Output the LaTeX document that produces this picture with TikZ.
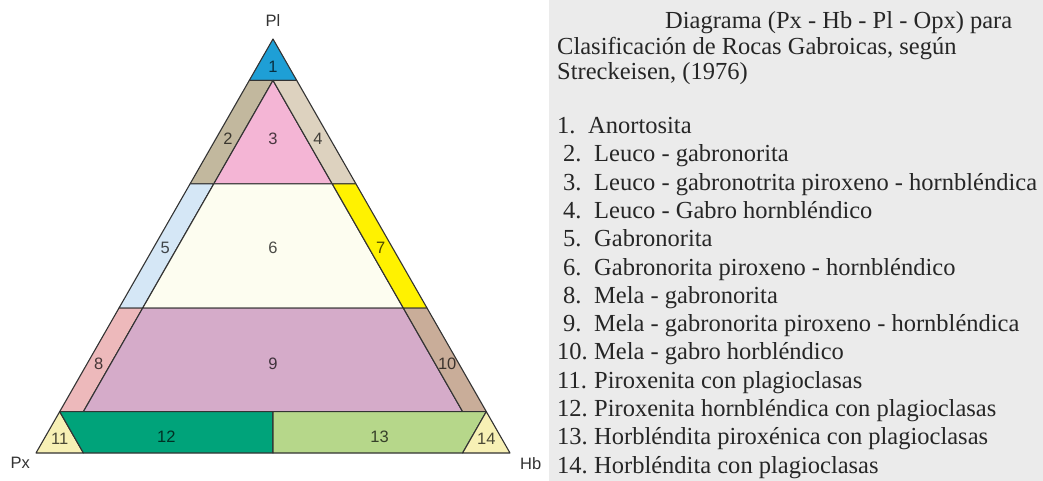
\documentclass[tikz,border=0pt]{standalone}
\usepackage{fontspec}
\setmainfont{Liberation Serif}
\newfontfamily\labelfont{Liberation Sans}
\usetikzlibrary{positioning,calc}
\definecolor{ink}{HTML}{333333}
\definecolor{panel}{HTML}{EBEBEB}
\definecolor{zone1}{HTML}{1E9FD6}
\definecolor{zone2}{HTML}{C2B89E}
\definecolor{zone3}{HTML}{F4B5D5}
\definecolor{zone4}{HTML}{DDD2BF}
\definecolor{zone5}{HTML}{D5E7F6}
\definecolor{zone6}{HTML}{FDFDF0}
\definecolor{zone7}{HTML}{FFF200}
\definecolor{zone8}{HTML}{EDB9BB}
\definecolor{zone9}{HTML}{D5ABC9}
\definecolor{zone10}{HTML}{C9AD99}
\definecolor{zone11}{HTML}{F7F0B5}
\definecolor{zone12}{HTML}{00A37A}
\definecolor{zone13}{HTML}{B6D78A}
\definecolor{zone14}{HTML}{F7F0B5}
\tikzset{
  zone/.style={draw=ink, line width=1.1pt, line join=round},
  tag/.style={inner sep=0pt, text=black, text opacity=0.7, font=\labelfont\fontsize{16.5}{16.5}\selectfont},
  apex/.style={inner sep=0pt, text=black!80, font=\labelfont\fontsize{16.5}{16.5}\selectfont},
  entry/.style={anchor=base west, inner sep=0pt, text=black!85, font=\fontsize{24.5}{21}\selectfont},
}

\begin{document}
\begin{tikzpicture}[x=1pt,y=-1pt]
  \useasboundingbox (0,0) rectangle (1043,481);
  \fill[white] (0,0) rectangle (1043,481);
  \fill[panel] (549,0) rectangle (1043,481);
  % corners of the triangle
  \coordinate (Pl) at (273,39);
  \coordinate (Px) at (36,453);
  \coordinate (Hb) at (510,453);
  \foreach \a/\b in {90/10,90/5,90/0,65/35,65/30,65/5,65/0,35/65,35/60,35/5,35/0,10/90,10/85,10/45,10/5,10/0,0/90,0/50,0/10}{
    \pgfmathsetmacro\wa{\a/100}
    \pgfmathsetmacro\wb{\b/100}
    \pgfmathsetmacro\wc{1-\wa-\wb}
    \coordinate (p\a x\b) at (barycentric cs:Pl=\wa,Px=\wb,Hb=\wc);
  }
  \filldraw[zone,fill=zone1](Pl)--(p90x10)--(p90x0)--cycle;
  \filldraw[zone,fill=zone2](p90x10)--(p90x5)--(p65x30)--(p65x35)--cycle;
  \filldraw[zone,fill=zone3](p90x5)--(p65x30)--(p65x5)--cycle;
  \filldraw[zone,fill=zone4](p90x5)--(p90x0)--(p65x0)--(p65x5)--cycle;
  \filldraw[zone,fill=zone5](p65x35)--(p65x30)--(p35x60)--(p35x65)--cycle;
  \filldraw[zone,fill=zone6](p65x30)--(p65x5)--(p35x5)--(p35x60)--cycle;
  \filldraw[zone,fill=zone7](p65x5)--(p65x0)--(p35x0)--(p35x5)--cycle;
  \filldraw[zone,fill=zone8](p35x65)--(p35x60)--(p10x85)--(p10x90)--cycle;
  \filldraw[zone,fill=zone9](p35x60)--(p35x5)--(p10x5)--(p10x85)--cycle;
  \filldraw[zone,fill=zone10](p35x5)--(p35x0)--(p10x0)--(p10x5)--cycle;
  \filldraw[zone,fill=zone11](p10x90)--(Px)--(p0x90)--cycle;
  \filldraw[zone,fill=zone12](p10x90)--(p0x90)--(p0x50)--(p10x45)--cycle;
  \filldraw[zone,fill=zone13](p10x45)--(p0x50)--(p0x10)--(p10x0)--cycle;
  \filldraw[zone,fill=zone14](p10x0)--(p0x10)--(Hb)--cycle;
  \foreach \n/\a/\b/\c in {1/.933/.0335/.0335,2/.76/.215/.025,3/.76/.12/.12,4/.76/.025/.215,5/.495/.48/.025,6/.495/.2525/.2525,7/.495/.025/.48,8/.215/.76/.025,9/.215/.3925/.3925,10/.215/.025/.76,11/.0333/.9333/.0334,12/.04/.705/.255,13/.04/.255/.705,14/.0333/.0334/.9333}
    {\node[tag](z\n) at (barycentric cs:Pl=\a,Px=\b,Hb=\c) {\n};}
  \node[apex,above=12pt of Pl](lPl){Pl};
  \node[apex,below left=4pt and 6pt of Px](lPx){Px};
  \node[apex,below right=4pt and 10pt of Hb](lHb){Hb};
  % legend
  \node[entry](title1) at (665,29) {Diagrama (Px - Hb - Pl - Opx) para};
  \node[entry](title2) at (557,54.5) {Clasificación de Rocas Gabroicas, según};
  \node[entry](title3) at (557,79.5) {Streckeisen, (1976)};
  \foreach \nx/\n/\tx/\t [count=\i from 0] in {557/1./588/Anortosita,563/2./594/Leuco - gabronorita,563/3./594/Leuco - gabronotrita piroxeno - hornbléndica,563/4./594/Leuco - Gabro hornbléndico,563/5./594/Gabronorita,563/6./594/Gabronorita piroxeno - hornbléndico,563/8./594/Mela - gabronorita,563/9./594/Mela - gabronorita piroxeno - hornbléndica,557/10./594/Mela - gabro horbléndico,557/11./594/Piroxenita con plagioclasas,557/12./594/Piroxenita hornbléndica con plagioclasas,557/13./594/Horbléndita piroxénica con plagioclasas,557/14./594/Horbléndita con plagioclasas}
    {\node[entry](n\i) at (\nx,133.5+28.3*\i) {\n};
     \node[entry](e\i) at (\tx,133.5+28.3*\i) {\t};}
\end{tikzpicture}
\end{document}
